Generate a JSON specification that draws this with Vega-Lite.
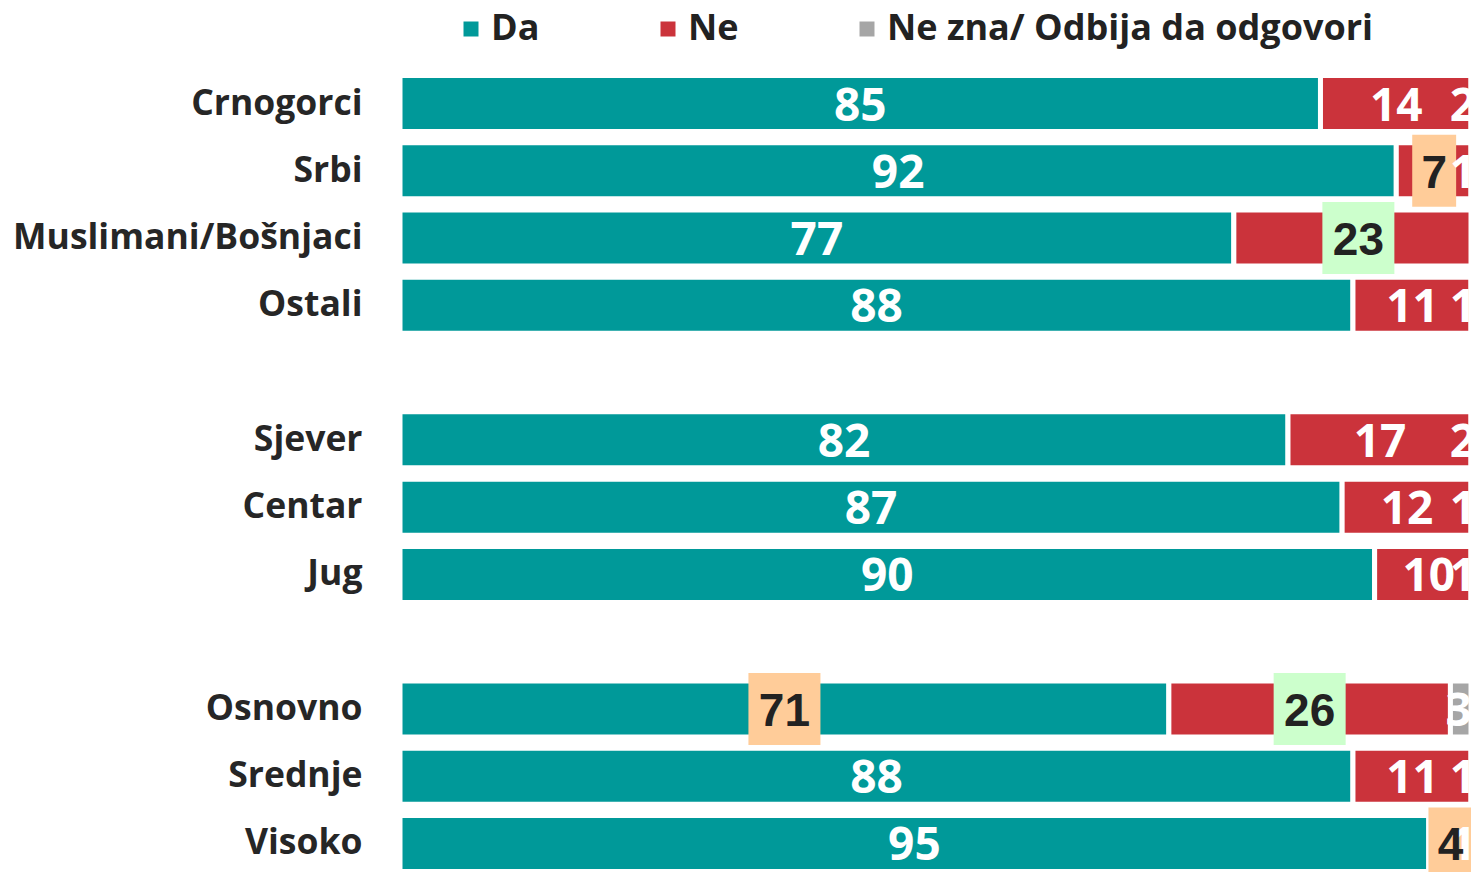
{
  "$schema": "https://vega.github.io/schema/vega-lite/v6.json",
  "autosize": "none",
  "width": 1071,
  "height": 797,
  "padding": {"left": 400, "top": 75, "right": 0, "bottom": 0},
  "background": "white",
  "config": {"view": {"stroke": null}, "font": "Open Sans"},
  "data": {
    "values": [
      {"grupa": "Crnogorci", "odgovor": "Da", "procenat": 85},
      {"grupa": "Crnogorci", "odgovor": "Ne", "procenat": 14},
      {"grupa": "Crnogorci", "odgovor": "Ne zna/ Odbija da odgovori", "procenat": 2},
      {"grupa": "Srbi", "odgovor": "Da", "procenat": 92},
      {"grupa": "Srbi", "odgovor": "Ne", "procenat": 7},
      {"grupa": "Srbi", "odgovor": "Ne zna/ Odbija da odgovori", "procenat": 1},
      {"grupa": "Muslimani/Bošnjaci", "odgovor": "Da", "procenat": 77},
      {"grupa": "Muslimani/Bošnjaci", "odgovor": "Ne", "procenat": 23},
      {"grupa": "Ostali", "odgovor": "Da", "procenat": 88},
      {"grupa": "Ostali", "odgovor": "Ne", "procenat": 11},
      {"grupa": "Ostali", "odgovor": "Ne zna/ Odbija da odgovori", "procenat": 1},
      {"grupa": "Sjever", "odgovor": "Da", "procenat": 82},
      {"grupa": "Sjever", "odgovor": "Ne", "procenat": 17},
      {"grupa": "Sjever", "odgovor": "Ne zna/ Odbija da odgovori", "procenat": 2},
      {"grupa": "Centar", "odgovor": "Da", "procenat": 87},
      {"grupa": "Centar", "odgovor": "Ne", "procenat": 12},
      {"grupa": "Centar", "odgovor": "Ne zna/ Odbija da odgovori", "procenat": 1},
      {"grupa": "Jug", "odgovor": "Da", "procenat": 90},
      {"grupa": "Jug", "odgovor": "Ne", "procenat": 10},
      {"grupa": "Jug", "odgovor": "Ne zna/ Odbija da odgovori", "procenat": 1},
      {"grupa": "Osnovno", "odgovor": "Da", "procenat": 71},
      {"grupa": "Osnovno", "odgovor": "Ne", "procenat": 26},
      {"grupa": "Osnovno", "odgovor": "Ne zna/ Odbija da odgovori", "procenat": 3},
      {"grupa": "Srednje", "odgovor": "Da", "procenat": 88},
      {"grupa": "Srednje", "odgovor": "Ne", "procenat": 11},
      {"grupa": "Srednje", "odgovor": "Ne zna/ Odbija da odgovori", "procenat": 1},
      {"grupa": "Visoko", "odgovor": "Da", "procenat": 95},
      {"grupa": "Visoko", "odgovor": "Ne", "procenat": 4},
      {"grupa": "Visoko", "odgovor": "Ne zna/ Odbija da odgovori", "procenat": 1}
    ]
  },
  "encoding": {
    "y": {
      "field": "grupa",
      "type": "nominal",
      "title": null,
      "scale": {
        "domain": ["Crnogorci", "Srbi", "Muslimani/Bošnjaci", "Ostali", " ", "Sjever", "Centar", "Jug", "  ", "Osnovno", "Srednje", "Visoko"],
        "paddingInner": 0.1675,
        "paddingOuter": 0.0075
      },
      "axis": {
        "ticks": false,
        "domain": false,
        "grid": false,
        "labelFont": "Open Sans",
        "labelFontSize": 35.5,
        "labelFontWeight": "bold",
        "labelColor": "#262626",
        "labelPadding": 38,
        "labelLimit": 600,
        "labelBaseline": "middle"
      }
    },
    "detail": {"field": "odgovor"},
    "order": {"field": "odgovor", "sort": "ascending"}
  },
  "layer": [
    {
      "mark": {"type": "bar", "stroke": "white", "strokeWidth": 5, "clip": true},
      "encoding": {
        "x": {"field": "procenat", "type": "quantitative", "stack": "zero", "scale": {"domain": [0, 98.9], "nice": false, "clamp": true, "zero": true}, "axis": null},
        "color": {
          "field": "odgovor",
          "type": "nominal",
          "scale": {"domain": ["Da", "Ne", "Ne zna/ Odbija da odgovori"], "range": ["#009999", "#CB333B", "#A6A6A6"]},
          "legend": {
            "orient": "none",
            "legendX": 53,
            "legendY": -64,
            "direction": "horizontal",
            "title": null,
            "symbolType": "square",
            "symbolSize": 225,
            "symbolStrokeWidth": 0,
            "labelFont": "Open Sans",
            "labelFontSize": 36,
            "labelFontWeight": "bold",
            "labelColor": "#222222",
            "labelOffset": 2,
            "columnPadding": 110,
            "labelLimit": 600
          }
        }
      }
    },
    {
      "mark": {"type": "point", "filled": true, "size": 5184, "opacity": 1, "clip": true},
      "encoding": {
        "x": {"field": "procenat", "type": "quantitative", "stack": "zero", "bandPosition": 0.5},
        "color": {
          "condition": [
            {"test": "(datum.grupa === 'Srbi' && datum.odgovor === 'Ne') || (datum.grupa === 'Osnovno' && datum.odgovor === 'Da') || (datum.grupa === 'Visoko' && datum.odgovor === 'Ne')", "value": "#FFCC99"},
            {"test": "(datum.grupa === 'Muslimani/Bošnjaci' && datum.odgovor === 'Ne') || (datum.grupa === 'Osnovno' && datum.odgovor === 'Ne')", "value": "#CCFFCC"}
          ],
          "value": "transparent"
        },
        "shape": {"condition": {"test": "datum.procenat < 10", "value": "M-0.61,-1H0.61V1H-0.61Z"}, "value": "square"}
      }
    },
    {
      "mark": {"type": "text", "font": "Open Sans", "fontSize": 46, "fontWeight": "bold", "color": "white", "baseline": "middle", "dy": 3, "clip": true},
      "encoding": {
        "x": {"field": "procenat", "type": "quantitative", "stack": "zero", "bandPosition": 0.5},
        "text": {"field": "procenat", "type": "quantitative"},
        "opacity": {
          "condition": {"test": "datum.odgovor === 'Ne zna/ Odbija da odgovori' || (datum.grupa === 'Srbi' && datum.odgovor === 'Ne') || (datum.grupa === 'Osnovno') || (datum.grupa === 'Visoko' && datum.odgovor === 'Ne') || (datum.grupa === 'Muslimani/Bošnjaci' && datum.odgovor === 'Ne')", "value": 0},
          "value": 1
        }
      }
    },
    {
      "mark": {"type": "text", "font": "Open Sans", "fontSize": 46, "fontWeight": "bold", "color": "white", "baseline": "middle", "dy": 3, "dx": -8, "clip": true},
      "encoding": {
        "x": {"field": "procenat", "type": "quantitative", "stack": "zero", "bandPosition": 0.5},
        "text": {"field": "procenat", "type": "quantitative"},
        "opacity": {
          "condition": {"test": "datum.odgovor === 'Ne zna/ Odbija da odgovori'", "value": 1},
          "value": 0
        }
      }
    },
    {
      "mark": {"type": "text", "font": "Liberation Sans", "fontSize": 46, "fontWeight": "bold", "color": "#222222", "baseline": "middle", "dy": 3, "clip": true},
      "encoding": {
        "x": {"field": "procenat", "type": "quantitative", "stack": "zero", "bandPosition": 0.5},
        "text": {"field": "procenat", "type": "quantitative"},
        "opacity": {
          "condition": {"test": "(datum.grupa === 'Srbi' && datum.odgovor === 'Ne') || (datum.grupa === 'Osnovno' && datum.odgovor !== 'Ne zna/ Odbija da odgovori') || (datum.grupa === 'Visoko' && datum.odgovor === 'Ne') || (datum.grupa === 'Muslimani/Bošnjaci' && datum.odgovor === 'Ne')", "value": 1},
          "value": 0
        }
      }
    }
  ]
}
